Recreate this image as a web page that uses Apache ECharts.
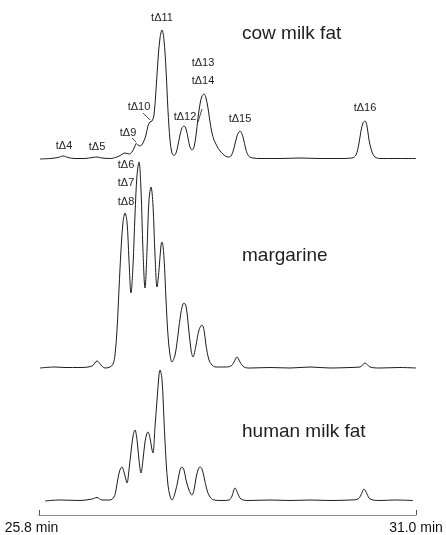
<!DOCTYPE html>
<html>
<head>
<meta charset="utf-8">
<script src="https://cdn.jsdelivr.net/npm/echarts@6/dist/echarts.min.js"></script>
<style>
  html, body { margin: 0; padding: 0; background: #fff; }
  #chart { width: 446px; height: 535px; }
</style>
</head>
<body>
<div id="chart"></div>
<script>
// retention time (min) vs detector signal
let cowTrace = [
  [25.814, 0], [25.952, 0.5], [26.062, 1.5], [26.131, 3], [26.2, 1.5], [26.297, 0.5],
  [26.434, 0.5], [26.531, 1.5], [26.6, 2], [26.669, 1], [26.779, 0.5], [26.876, 2],
  [26.931, 4], [26.986, 6], [27.041, 5], [27.083, 7], [27.124, 13], [27.138, 15.5],
  [27.166, 14], [27.193, 13], [27.234, 16], [27.276, 24], [27.303, 33], [27.331, 37],
  [27.359, 38], [27.386, 44], [27.414, 69], [27.441, 99], [27.469, 121], [27.497, 129],
  [27.524, 119], [27.552, 89], [27.579, 49], [27.607, 19], [27.634, 6], [27.662, 3.5],
  [27.69, 6], [27.717, 14], [27.745, 24], [27.772, 31], [27.8, 33], [27.828, 30],
  [27.855, 21], [27.883, 12], [27.91, 9], [27.938, 12], [27.966, 24], [27.993, 41],
  [28.021, 55], [28.048, 63], [28.076, 65], [28.103, 61], [28.131, 51], [28.159, 37],
  [28.186, 26], [28.214, 19], [28.255, 13], [28.297, 8], [28.352, 4], [28.407, 2],
  [28.448, 3], [28.49, 11], [28.531, 23], [28.572, 28], [28.614, 22], [28.655, 9],
  [28.697, 2.5], [28.752, 1], [28.848, 0.5], [29.124, 0.5], [29.4, 1], [29.676, 0.5],
  [29.952, 0.5], [30.117, 1], [30.172, 4], [30.214, 16], [30.241, 28], [30.269, 36],
  [30.297, 38], [30.324, 33], [30.352, 19], [30.393, 7], [30.434, 2], [30.503, 0.5],
  [30.71, 0.5], [31.0, 0.5]
];
let margarineTrace = [
  [25.814, 0], [26.021, 1], [26.159, 0.5], [26.366, 0.5], [26.531, 2], [26.6, 7],
  [26.655, 3], [26.71, 0], [26.779, 1], [26.821, 4], [26.848, 13], [26.876, 38],
  [26.903, 78], [26.931, 118], [26.959, 146], [26.986, 155], [27.014, 146], [27.041, 108],
  [27.069, 75], [27.097, 103], [27.124, 153], [27.152, 193], [27.179, 206], [27.207, 178],
  [27.234, 118], [27.262, 80], [27.29, 118], [27.317, 168], [27.345, 181], [27.372, 163],
  [27.4, 113], [27.428, 81], [27.455, 98], [27.483, 123], [27.497, 126], [27.524, 110],
  [27.552, 68], [27.579, 33], [27.607, 13], [27.634, 6], [27.676, 13], [27.717, 33],
  [27.759, 56], [27.8, 65], [27.828, 62], [27.855, 46], [27.897, 18], [27.924, 11],
  [27.966, 23], [28.007, 38], [28.048, 43], [28.076, 38], [28.103, 23], [28.145, 8],
  [28.186, 3], [28.241, 1], [28.366, 1], [28.448, 2], [28.49, 6], [28.531, 11],
  [28.572, 6], [28.628, 1], [28.71, 0], [28.986, 0.5], [29.262, 0], [29.538, 1],
  [29.814, 0], [30.09, 0.5], [30.228, 1], [30.297, 5], [30.366, 1], [30.503, 0],
  [30.779, 0.5], [31.0, 0]
];
let humanTrace = [
  [25.883, 0], [26.09, 1], [26.366, 0.5], [26.531, 2], [26.6, 3.5], [26.669, 1],
  [26.779, 1], [26.834, 4], [26.862, 11], [26.89, 23], [26.917, 31], [26.945, 34],
  [26.972, 29], [27.0, 21], [27.014, 18], [27.041, 31], [27.069, 49], [27.097, 65],
  [27.124, 71], [27.152, 61], [27.179, 41], [27.207, 28], [27.234, 41], [27.262, 59],
  [27.29, 68], [27.303, 69], [27.331, 63], [27.359, 51], [27.372, 48], [27.4, 74],
  [27.428, 101], [27.455, 126], [27.469, 131], [27.497, 121], [27.524, 81], [27.552, 41],
  [27.579, 16], [27.607, 5], [27.634, 1], [27.676, 8], [27.717, 21], [27.745, 31],
  [27.772, 34], [27.8, 31], [27.828, 21], [27.869, 11], [27.91, 6], [27.938, 11],
  [27.966, 23], [27.993, 31], [28.021, 34], [28.048, 32], [28.076, 24], [28.117, 11],
  [28.159, 4], [28.214, 1], [28.324, 0.5], [28.421, 1], [28.462, 5], [28.503, 13],
  [28.545, 7], [28.586, 2], [28.683, 0.5], [28.986, 1], [29.262, 0.5], [29.538, 1],
  [29.814, 0.5], [30.09, 1], [30.2, 2], [30.241, 6], [30.283, 12], [30.324, 7],
  [30.366, 2], [30.503, 0.5], [30.71, 1], [30.959, 0.5]
];
let axisTicks = [25.8, 31.0];

let font = "Liberation Sans, Arial, sans-serif";
let ink = "#1e1e1e";

// plot area left/right edges match the time scale bar
let grids = [
  { left: 39, right: 30, top: 10, height: 149 },
  { left: 39, right: 30, top: 150, height: 218 },
  { left: 39, right: 30, top: 360, height: 141 }
];

function traceSeries(data, i) {
  return {
    type: "line",
    xAxisIndex: i,
    yAxisIndex: i,
    data: data,
    smooth: 0.35,
    showSymbol: false,
    clip: false,
    lineStyle: { color: ink, width: 1 },
    animation: false
  };
}

function label(text, x, y, size) {
  return {
    type: "text",
    x: x,
    y: y,
    style: {
      text: text,
      fill: ink,
      font: size + "px " + font,
      textAlign: "center",
      textVerticalAlign: "middle"
    }
  };
}

function leader(x1, y1, x2, y2) {
  return {
    type: "line",
    shape: { x1: x1, y1: y1, x2: x2, y2: y2 },
    style: { stroke: ink, lineWidth: 0.8 }
  };
}

let chart = echarts.init(document.getElementById("chart"));

let option = {
  backgroundColor: "#fff",
  animation: false,
  grid: grids,
  xAxis: [0, 1, 2].map(function (i) {
    let ax = {
      type: "value",
      gridIndex: i,
      min: 25.8,
      max: 31.0,
      show: i === 2,
      splitLine: { show: false }
    };
    if (i === 2) {
      // time bar sits a little below the last trace
      ax.offset = 14;
      ax.axisLine = { show: true, onZero: false, lineStyle: { color: "#8a8a8a", width: 1 } };
      ax.axisTick = {
        show: true,
        inside: true,
        length: 5,
        customValues: axisTicks,
        lineStyle: { color: "#555" }
      };
      ax.axisLabel = {
        customValues: axisTicks,
        margin: 6,
        color: "#111",
        fontSize: 14,
        fontFamily: font,
        formatter: function (v) {
          let s = v.toFixed(1) + " min";
          return v < 28 ? "{l|" + s + "}" : "{r|" + s + "}";
        },
        rich: {
          l: { fontSize: 14, fontFamily: font, color: "#111", padding: [0, 15, 0, 0] },
          r: { fontSize: 14, fontFamily: font, color: "#111" }
        }
      };
    }
    return ax;
  }),
  yAxis: [
    { type: "value", gridIndex: 0, min: 0, max: 149, show: false },
    { type: "value", gridIndex: 1, min: 0, max: 218, show: false },
    { type: "value", gridIndex: 2, min: 0, max: 141, show: false }
  ],
  series: [
    traceSeries(cowTrace, 0),
    traceSeries(margarineTrace, 1),
    traceSeries(humanTrace, 2)
  ],
  graphic: [
    // sample names
    { type: "text", x: 242, y: 34, style: { text: "cow milk fat", fill: ink, font: "19px " + font, textVerticalAlign: "middle" } },
    { type: "text", x: 242, y: 256, style: { text: "margarine", fill: ink, font: "19px " + font, textVerticalAlign: "middle" } },
    { type: "text", x: 242, y: 432, style: { text: "human milk fat", fill: ink, font: "19px " + font, textVerticalAlign: "middle" } },
    // peak assignments
    label("tΔ4", 64, 146, 11),
    label("tΔ5", 97, 147, 11),
    label("tΔ9", 128, 133, 11),
    label("tΔ10", 139, 107, 11),
    label("tΔ11", 162, 18, 11),
    label("tΔ12", 185, 117, 11),
    label("tΔ13", 203, 63, 11),
    label("tΔ14", 203, 81, 11),
    label("tΔ15", 240, 119, 11),
    label("tΔ16", 365, 108, 11),
    label("tΔ6", 126, 165, 11),
    label("tΔ7", 126, 183, 11),
    label("tΔ8", 126, 202, 11),
    leader(143, 113, 150, 120),
    leader(132, 138, 136, 142),
    leader(198, 122, 202, 109)
  ]
};

chart.setOption(option);
</script>
</body>
</html>
